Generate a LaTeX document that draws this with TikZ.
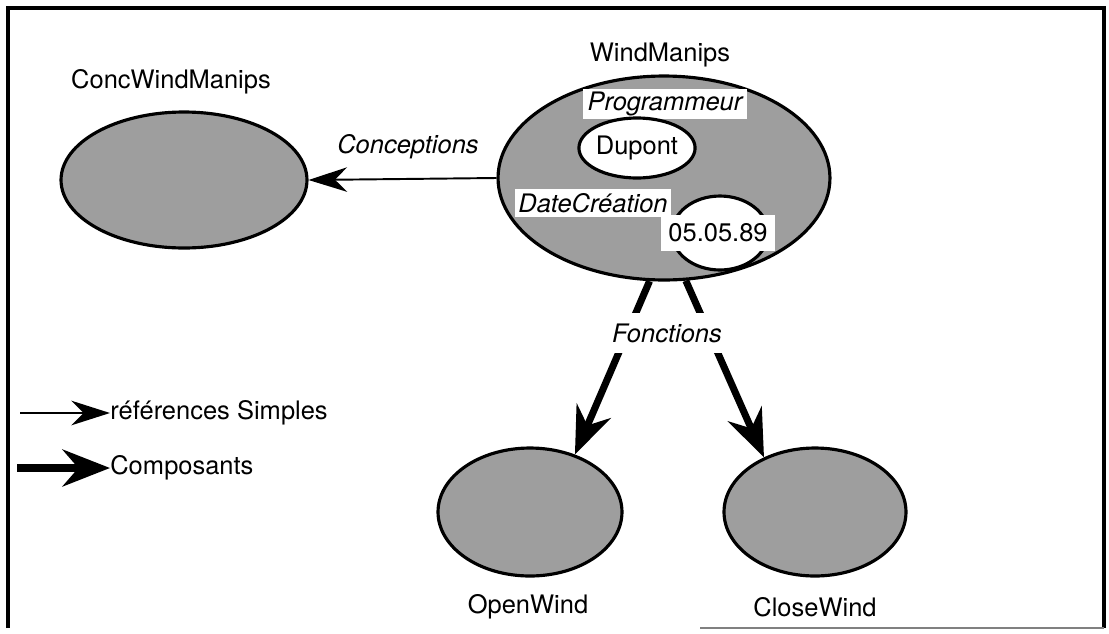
\documentclass[tikz,border=0pt]{standalone}
\usepackage{fontspec}
\setmainfont{TeX Gyre Heros}
\usetikzlibrary{arrows.meta,shapes.geometric}
\begin{document}
\begin{tikzpicture}[x=0.02cm,y=-0.02cm,
  every node/.style={font=\fontsize{14.5}{17}\selectfont},
  obj/.style={ellipse,draw,line width=1.8pt,fill=black!38,inner sep=0pt},
  val/.style={ellipse,draw,line width=1.8pt,fill=white,inner sep=0pt},
  attr/.style={fill=white,inner xsep=2.5pt,inner ysep=2.5pt,font=\fontsize{14.5}{17}\selectfont\itshape},
  simple/.style={line width=1.1pt,-{Stealth[length=22pt,width=14pt,inset=7pt]}},
  compo/.style={line width=4pt,-{Stealth[length=27pt,width=21pt,inset=9pt]}}]
\useasboundingbox (0,0) rectangle (1109,633);
% cadre
\draw[line width=2pt] (8,628) -- (8,8) -- (1104,8) -- (1104,628);
\draw[gray,line width=1pt] (700,628) -- (1104,628);
% objets
\node[obj,minimum width=4.92cm,minimum height=2.72cm] (conc) at (184,180) {};
\node (conctxt) at (171,82) {ConcWindManips};
\node[obj,minimum width=6.64cm,minimum height=4.08cm] (wm) at (664,178) {};
\node (wmtxt) at (660,55) {WindManips};
\node[attr,inner ysep=1.5pt] (prog) at (665,104) {Programmeur};
\node[val,minimum width=2.2cm,minimum height=1.2cm] (dupont) at (637,148) {Dupont};
\node[attr,inner xsep=1.8pt] (datec) at (593,203) {DateCréation};
\node[val,minimum width=1.92cm,minimum height=1.48cm] (dateval) at (720,233) {};
\node[fill=white,inner xsep=4.5pt,inner ysep=5pt] (datetxt) at (718,233) {05.05.89};
\node[obj,minimum width=3.68cm,minimum height=2.56cm] (ow) at (530,512) {};
\node (owtxt) at (528,607) {OpenWind};
\node[obj,minimum width=3.64cm,minimum height=2.56cm] (cw) at (815,512) {};
\node (cwtxt) at (815,607) {CloseWind};
% liens
\draw[simple] (wm.west) -- (conc.east);
\node[font=\fontsize{14.5}{17}\selectfont\itshape] (concep) at (408,147) {Conceptions};
\draw[compo] (wm.262) -- (ow.52);
\draw[compo] (wm.-78) -- (cw.133);
\node[attr,inner xsep=1pt,inner ysep=6pt] (fonc) at (667,333) {Fonctions};
% legende
\node[anchor=west,inner sep=0pt] (refs) at (110,413) {références Simples};
\coordinate (refs0) at (20,413);
\draw[simple] (refs0) -- (refs.west);
\node[anchor=west,inner sep=0pt] (comps) at (110,468) {Composants};
\coordinate (comps0) at (17,468);
\draw[compo] (comps0) -- (comps.west);
\end{tikzpicture}
\end{document}
